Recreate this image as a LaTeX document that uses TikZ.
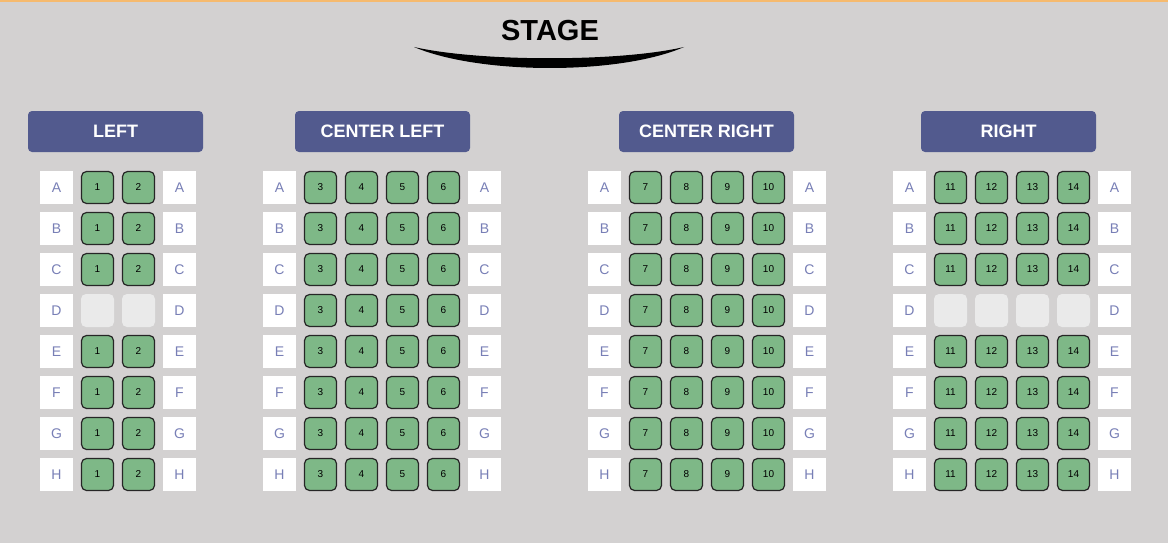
\documentclass[tikz,border=0pt]{standalone}
\usepackage{fontspec}
\setmainfont{Liberation Sans}
\usepackage{tikz}
\usetikzlibrary{positioning}
\definecolor{hallgray}{RGB}{211,209,209}
\definecolor{topline}{RGB}{246,186,110}
\definecolor{headerblue}{RGB}{82,90,142}
\definecolor{seatgreen}{RGB}{126,184,135}
\definecolor{emptyseat}{RGB}{234,234,234}
\definecolor{rowtext}{RGB}{120,127,182}

\begin{document}
\begin{tikzpicture}[x=1pt, y=-1pt,
    header/.style={rectangle, fill=headerblue, text=white, rounded corners=4pt, minimum width=175pt, minimum height=41pt, inner sep=0pt, font=\fontsize{18}{20}\selectfont\bfseries},
    rowlabel/.style={rectangle, fill=white, text=rowtext, minimum size=33pt, inner sep=0pt, font=\fontsize{14}{16}\selectfont},
    seat/.style={rectangle, draw=black!85, line width=1.2pt, fill=seatgreen, rounded corners=5pt, minimum size=32pt, inner sep=0pt, font=\fontsize{10}{12}\selectfont},
    noseat/.style={rectangle, fill=emptyseat, rounded corners=5pt, minimum size=33pt, inner sep=0pt}
  ]
    % background and margins
    \fill[hallgray] (0,0) rectangle (1168,543);
    \useasboundingbox (0,0) rectangle (1168,543);
    \fill[topline] (0,0) rectangle (1168,2);

    % stage
    \node[font=\fontsize{29}{32}\selectfont\bfseries] (stage) at (550,30.5) {STAGE};
    \fill[black] (414,47) .. controls (480,62) and (620,62) .. (684,47)
                 .. controls (620,75) and (480,75) .. cycle;

    % section headers
    \node[header] (left) at (115.5,131.5) {LEFT};
    \node[header] (centerleft) at (382.5,131.5) {CENTER LEFT};
    \node[header] (centerright) at (706.5,131.5) {CENTER RIGHT};
    \node[header] (right) at (1008.5,131.5) {RIGHT};

    % rows: left label x, right label x, first seat x, first number, seat count, empty row D
    \foreach \sec/\lx/\rx/\sx/\first/\n/\gap in {L/56.5/179.5/97.5/1/2/1, CL/279.5/484.5/320.5/3/4/0, CR/604.5/809.5/645.5/7/4/0, R/909.5/1114.5/950.5/11/4/1} {
      \foreach \row [count=\i from 0] in {A,B,C,D,E,F,G,H} {
        \pgfmathsetmacro{\ry}{187.5+41*\i}
        \node[rowlabel] (\sec-\row-l) at (\lx,\ry) {\row};
        \node[rowlabel] (\sec-\row-r) at (\rx,\ry) {\row};
        \foreach \k in {1,...,\n} {
          \pgfmathtruncatemacro{\num}{\first+\k-1}
          \pgfmathsetmacro{\seatx}{\sx+41*(\k-1)}
          \ifnum\gap=1
            \ifnum\i=3
              \node[noseat] (\sec-\row-\num) at (\seatx,\ry) {};
            \else
              \node[seat] (\sec-\row-\num) at (\seatx,\ry) {\num};
            \fi
          \else
            \node[seat] (\sec-\row-\num) at (\seatx,\ry) {\num};
          \fi
        }
      }
    }
  \end{tikzpicture}
\end{document}
